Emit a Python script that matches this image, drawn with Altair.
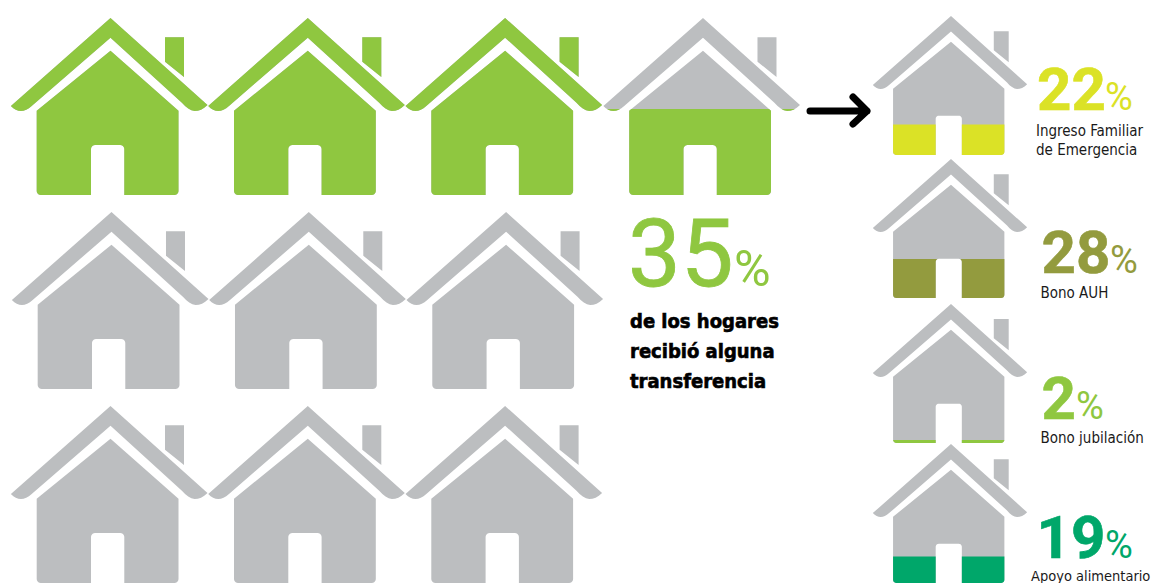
import altair as alt
import pandas as pd

# ---- data ----
GREEN, GRAY, YELLOW, OLIVE, EMERALD = "#8FC740", "#BCBEC0", "#DBE226", "#939B3E", "#00A76A"

big_col = [0, 1, 2, 3.003, 0.005, 1.005, 2.005, 0, 1, 2]
big_row = [0, 0, 0, 0, 1, 1, 1, 2, 2, 2]
big_share = [1, 1, 1, 0.486, 0, 0, 0, 0, 0, 0]

small_col = [4.26, 4.26, 4.26, 4.26]
small_row = [-0.0103, 0.727, 1.474, 2.196]
small_share = [0.22, 0.28, 0.02, 0.19]
small_color = [YELLOW, OLIVE, GREEN, EMERALD]

headline_num = ["35"]
num_text = ["22", "28", "2", "19"]
num_x = [1037, 1041.5, 1041.5, 1036.5]
num_y = [110, 273, 419, 558]
pct_x = [1105, 1110, 1076, 1105]
label_text = ["Ingreso Familiar", "de Emergencia", "Bono AUH", "Bono jubilación", "Apoyo alimentario"]
label_x = [1036, 1036, 1040.5, 1040.5, 1031]
label_y = [135.5, 155, 297.5, 442.5, 581]
label_size = [15, 15, 15, 15, 14.5]
body_text = ["de los hogares", "recibió alguna", "transferencia"]
body_y = [328, 358, 388]

# ---- house drawing (shape outlines, apex at origin, units = px of the large house) ----
def arc(cx, cy, r, a0, a1, n=5):
    import math
    return [(cx + r * math.cos(math.radians(a0 + (a1 - a0) * i / n)),
             cy + r * math.sin(math.radians(a0 + (a1 - a0) * i / n))) for i in range(n + 1)]

def bez(p0, p1, p2, n=8):
    return [((1 - t) ** 2 * p0[0] + 2 * t * (1 - t) * p1[0] + t * t * p2[0],
             (1 - t) ** 2 * p0[1] + 2 * t * (1 - t) * p1[1] + t * t * p2[1])
            for t in [i / n for i in range(n + 1)]]

ROOF = ([(0, 0), (97, 87)] + bez((97, 87), (84, 100), (71.4, 84.7))[1:]
        + [(0, 19.7)] + bez((-78.8, 88), (-90, 98), (-99.6, 88)))
CHIMNEY = [(54.5, 19.3), (73.5, 19.3), (73.5, 59), (54.5, 43.7)]
BODY = ([(0, 32.7), (68, 92.7)] + arc(64, 173, 4, 0, 90) + [(13.8, 177)]
        + [(13.8, 131)] + arc(9.8, 131, 4, 0, -90) + arc(-15.5, 131, 4, -90, -180)
        + [(-19.5, 177)] + arc(-69.8, 173, 4, 90, 180) + [(-73.8, 92.7)])

def clip(poly, level):
    out = []
    for i, p in enumerate(poly):
        q = poly[(i + 1) % len(poly)]
        if p[1] >= level:
            out.append(p)
        if (p[1] >= level) != (q[1] >= level):
            t = (level - p[1]) / (q[1] - p[1])
            out.append((p[0] + t * (q[0] - p[0]), level))
    return out

def to_path(polys):
    parts = []
    for poly in polys:
        if poly:
            parts.append("M" + "L".join(f"{x / 100:.4f},{y / 100:.4f}" for x, y in poly) + "Z")
    return "".join(parts)

FULL = to_path([ROOF, CHIMNEY, BODY])
def filled(share):
    level = 177 * (1 - share)
    return to_path([clip(ROOF, level), clip(CHIMNEY, level), clip(BODY, level)])

BIG, SMALL = 40000, 24649
rows = []
for c, r, s in zip(big_col, big_row, big_share):
    rows.append(dict(col=c, row=r, share=s, color=GREEN, size=BIG))
for c, r, s, k in zip(small_col, small_row, small_share, small_color):
    rows.append(dict(col=c, row=r, share=s, color=k, size=SMALL))
houses = pd.DataFrame(rows)
houses["full"] = FULL
houses["part"] = [filled(s) if s > 0 else "" for s in houses["share"]]

# ---- scales: column / row units of the house grid ----
u = lambda px: (px - 110.5) / 197.3
v = lambda py: (py - 18) / 194
X = alt.X("col:Q", axis=None, scale=alt.Scale(domain=[u(8), u(1151)], range=[0, 1143], nice=False, zero=False))
Y = alt.Y("row:Q", axis=None, scale=alt.Scale(domain=[v(8), v(583)], range=[0, 575], nice=False, zero=False))

def sym(df, field):
    return alt.Chart(df).mark_point(filled=True, opacity=1, strokeWidth=0).encode(
        x=X, y=Y,
        shape=alt.Shape(f"{field}:N", scale=None, legend=None),
        size=alt.Size("size:Q", scale=None, legend=None),
        color=alt.Color("color:N", scale=None, legend=None),
    )

gray = sym(houses.assign(color=GRAY), "full")
fills = sym(houses[houses.share > 0], "part")

arrow = alt.Chart(pd.DataFrame({"col": [u(837)], "row": [v(111)]})).mark_point(
    filled=False, opacity=1, stroke="#000000", strokeWidth=7, strokeCap="round", strokeJoin="round",
    shape="M-0.27,0L0.3,0M0.16,-0.14L0.3,0L0.16,0.13", size=40000,
).encode(x=X, y=Y)

COND = "DejaVu Sans Condensed, Liberation Sans"
NUM = "Roboto, Liberation Sans"
def text_layer(rows, weight, font, stroke=0.0):
    df = pd.DataFrame(rows, columns=["txt", "px", "py", "fs", "color"])
    df["col"] = [u(p) for p in df.px]
    df["row"] = [v(p) for p in df.py]
    return alt.Chart(df).mark_text(
        align="left", baseline="alphabetic", font=font, fontWeight=weight, strokeWidth=stroke,
    ).encode(
        x=X, y=Y, text="txt:N",
        size=alt.Size("fs:Q", scale=None, legend=None),
        color=alt.Color("color:N", scale=None, legend=None),
        stroke=alt.Stroke("color:N", scale=None, legend=None),
    )

big_num = text_layer([(headline_num[0], 628, 286, 94, GREEN)], "normal", NUM, 0.8)
pcts = text_layer(
    [("%", 734, 286, 50, GREEN)] + [("%", x, y, 38, k) for x, y, k in zip(pct_x, num_y, small_color)],
    "normal", NUM)
nums = text_layer([(t, x, y, 60, k) for t, x, y, k in zip(num_text, num_x, num_y, small_color)], "bold", NUM, 0.6)
labels = text_layer([(t, x, y, s, "#1a1a1a") for t, x, y, s in zip(label_text, label_x, label_y, label_size)], "normal", COND)
body = text_layer([(t, 630, y, 20, "#000000") for t, y in zip(body_text, body_y)], "bold", COND, 0.6)

chart = alt.layer(gray, fills, arrow, big_num, pcts, nums, labels, body).properties(
    width=1143, height=575, padding=0,
    autosize=alt.AutoSizeParams(type="none"),
).configure_view(stroke=None)

chart.save("out.html", embed_options={"renderer": "svg", "actions": False})
